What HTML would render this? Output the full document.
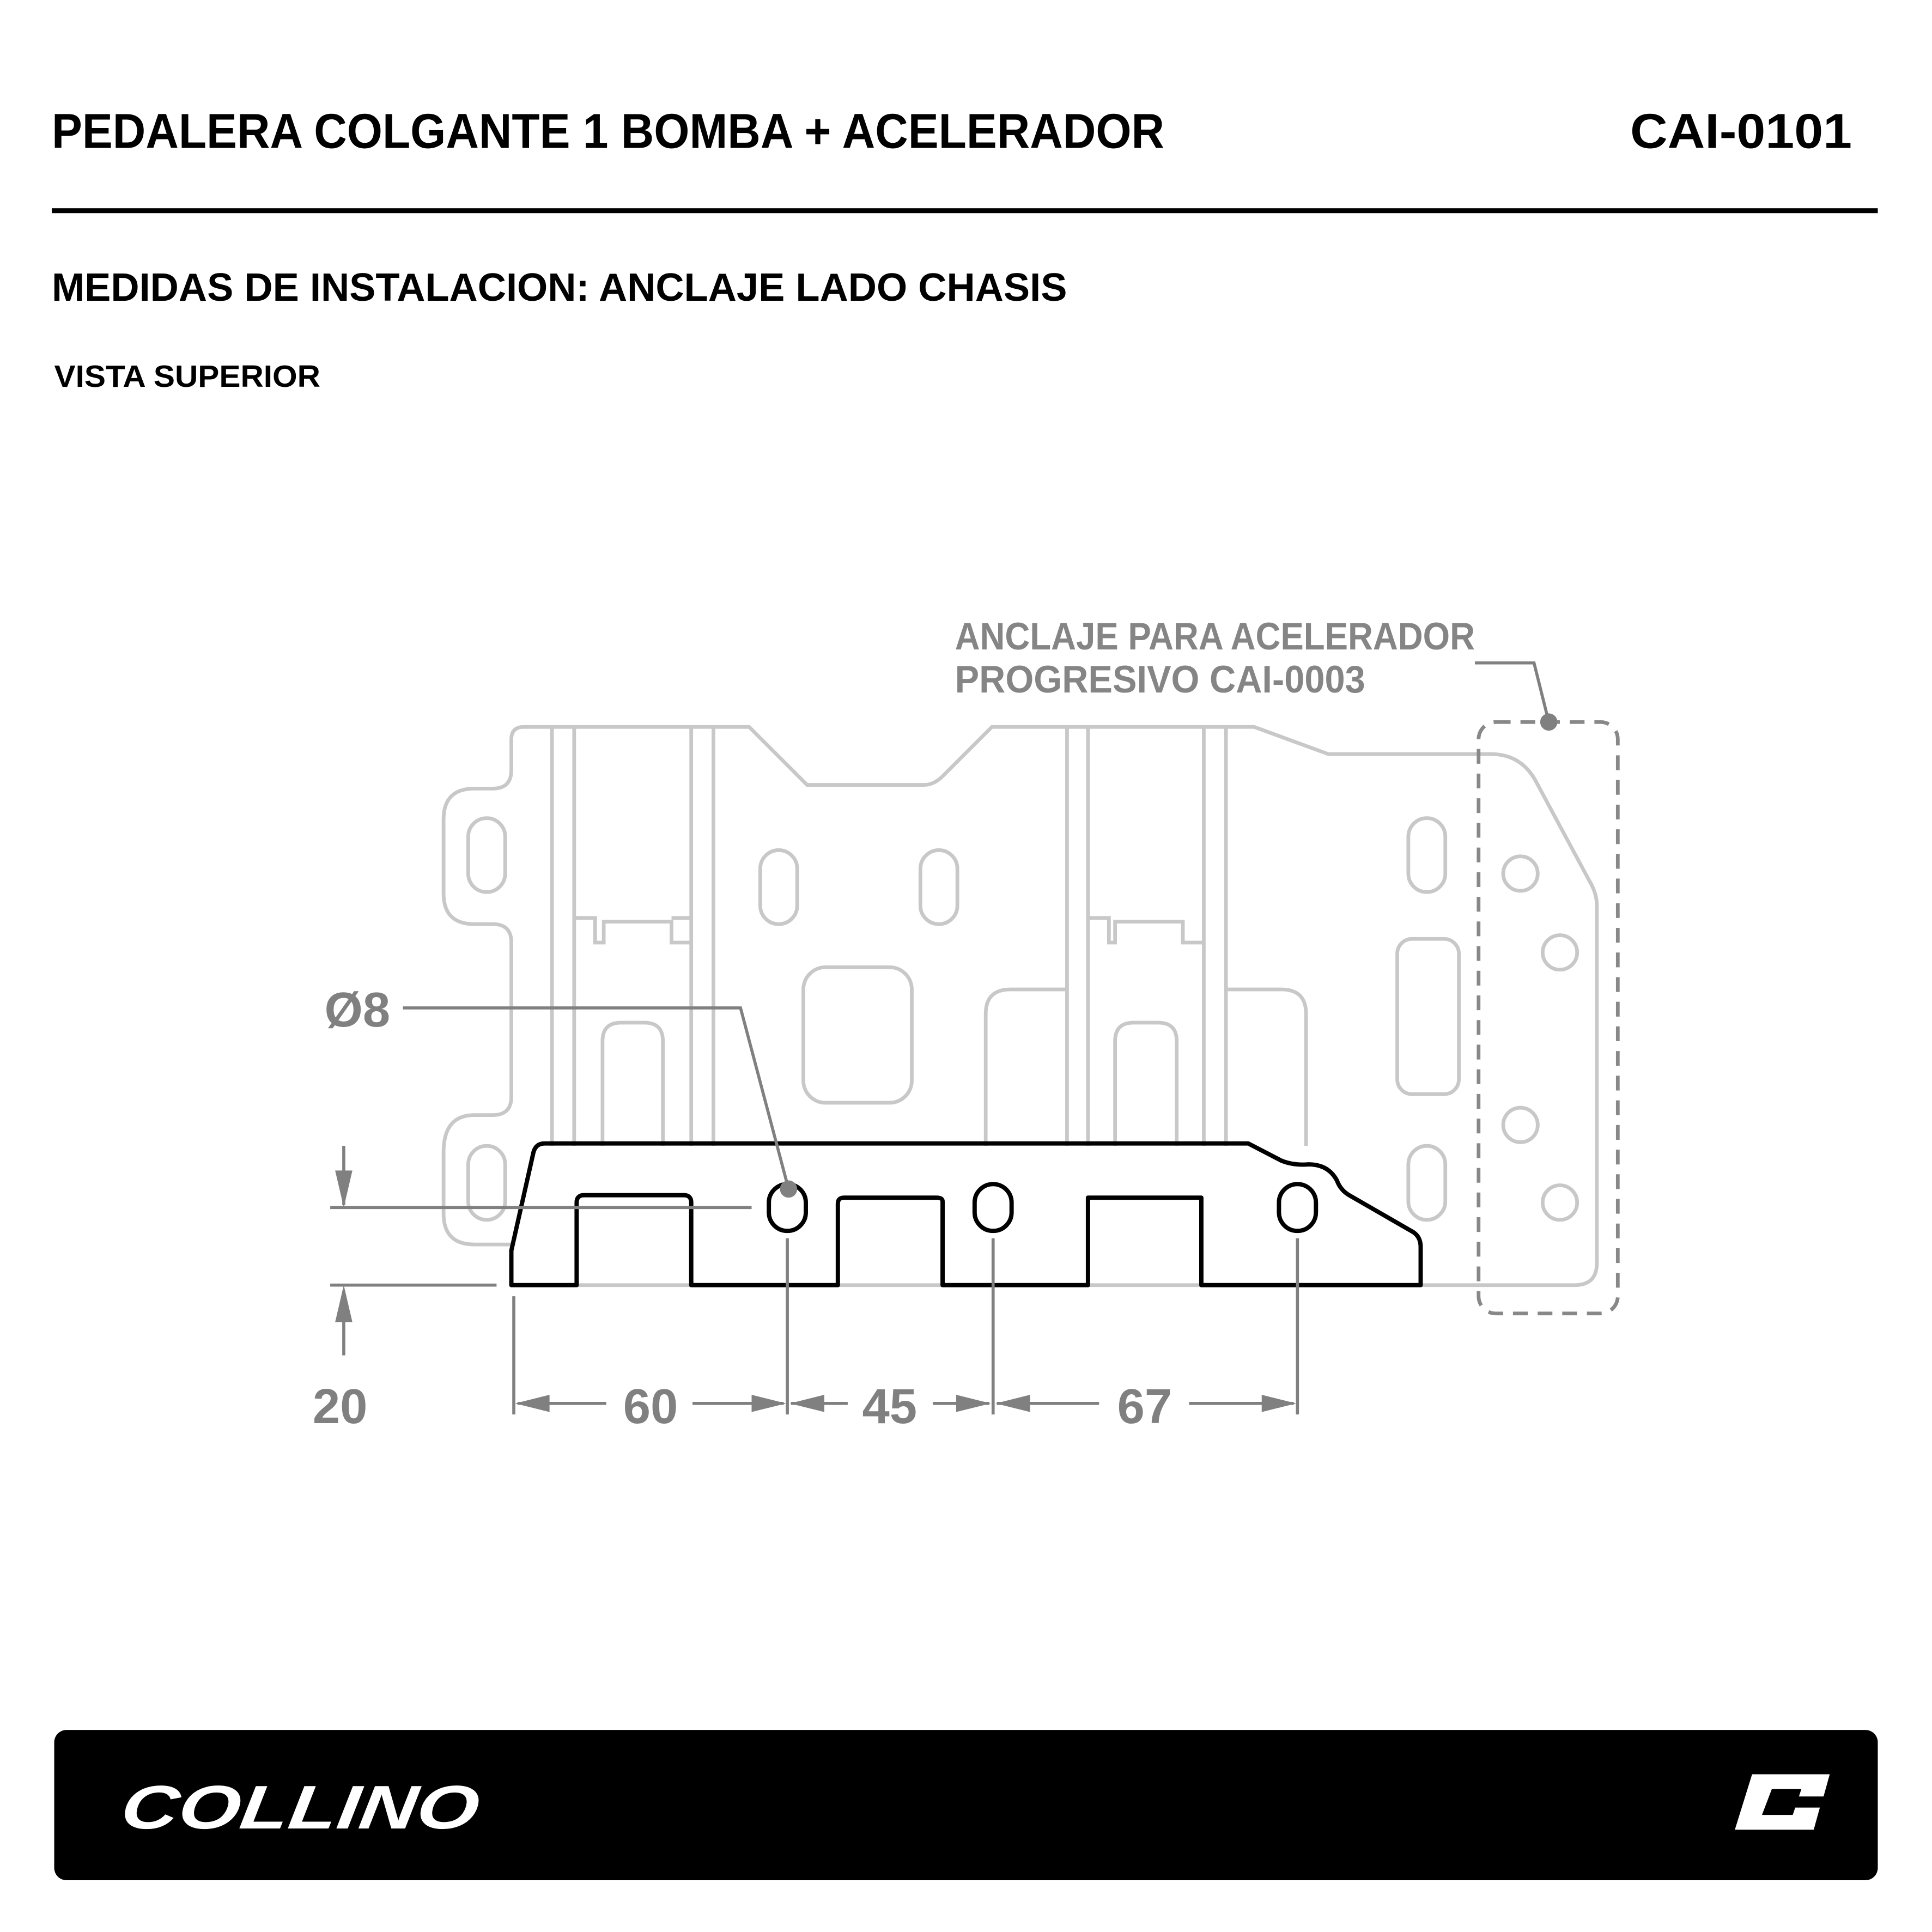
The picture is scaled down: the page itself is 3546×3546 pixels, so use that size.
<!DOCTYPE html>
<html><head><meta charset="utf-8"><style>html,body{margin:0;padding:0;background:#fff}svg{display:block}</style></head>
<body>
<svg xmlns="http://www.w3.org/2000/svg" width="3546" height="3546" viewBox="0 0 1568 1568">
<rect width="1568" height="1568" fill="#fff"/>
<g font-family="Liberation Sans, sans-serif" font-weight="bold">
<text x="42" y="120" font-size="40" textLength="903" lengthAdjust="spacingAndGlyphs">PEDALERA COLGANTE 1 BOMBA + ACELERADOR</text>
<text x="1323" y="120" font-size="40" textLength="180" lengthAdjust="spacingAndGlyphs">CAI-0101</text>
<rect x="42" y="169" width="1482" height="4" fill="#000"/>
<text x="42" y="244" font-size="32" textLength="824" lengthAdjust="spacingAndGlyphs">MEDIDAS DE INSTALACION: ANCLAJE LADO CHASIS</text>
<text x="44" y="314" font-size="25" textLength="216" lengthAdjust="spacingAndGlyphs">VISTA SUPERIOR</text>
</g>
<g fill="none" stroke="#c8c8c8" stroke-width="3">
<path d="M415,600 Q415,590 425,590 L608,590 L655,637 L750,637 Q758,637 765,630 L805,590 L1018,590 L1078,612 L1210,612 Q1235,612 1247,635 L1290,715 Q1296,725 1296,735 L1296,1025 Q1296,1043 1278,1043 L415,1043 M415,600 L415,625 Q415,640 400,640 L385,640 Q360,640 360,665 L360,725 Q360,750 385,750 L400,750 Q415,750 415,765 L415,890 Q415,905 400,905 L385,905 Q360,905 360,935 L360,985 Q360,1010 385,1010 L415,1010"/>
<path d="M448,590V930M466,590V930M561,590V930M579,590V930M866,590V930M883,590V930M977,590V930M995,590V930"/>
<path d="M466,745 L483,745 L483,765 L490,765 L490,748 L545,748 L545,765 L561,765 M561,745 L545,745"/>
<path d="M883,745 L900,745 L900,765 L905,765 L905,748 L960,748 L960,765 L977,765"/>
<rect x="380" y="664" width="30" height="60" rx="15"/><rect x="617" y="690" width="30" height="60" rx="15"/>
<rect x="747" y="690" width="30" height="60" rx="15"/><rect x="1143" y="664" width="30" height="60" rx="15"/>
<rect x="1143" y="930" width="30" height="60" rx="15"/><rect x="380" y="930" width="30" height="60" rx="15"/>
<rect x="652" y="785" width="88" height="110" rx="18"/><rect x="1134" y="762" width="50" height="126" rx="12"/>
<path d="M489,930V845Q489,830 504,830H523Q538,830 538,845V930"/>
<path d="M800,930V823Q800,803 820,803H866"/>
<path d="M905,930V845Q905,830 920,830H940Q955,830 955,845V930"/>
<path d="M995,803H1040Q1060,803 1060,823V930"/>
<circle cx="1234" cy="709" r="14"/><circle cx="1266" cy="773" r="14"/><circle cx="1234" cy="913" r="14"/><circle cx="1266" cy="976" r="14"/>
</g>
<rect x="1200" y="586" width="113" height="480" rx="14" fill="none" stroke="#888" stroke-width="3" stroke-dasharray="12,8"/>
<path d="M415,1043 L415,1015 L433,935 Q435,928 442,928 L1013,928 L1040,942 Q1050,946 1062,945 Q1078,945 1085,958 Q1088,966 1095,970 L1147,1000 Q1153,1004 1153,1012 L1153,1043 L975,1043 L975,972 L883,972 L883,1043 L765,1043 L765,975 Q765,972 760,972 L685,972 Q680,972 680,977 L680,1043 L561,1043 L561,976 Q561,970 555,970 L474,970 Q468,970 468,976 L468,1043 Z" fill="none" stroke="#000" stroke-width="3.5" stroke-linejoin="round"/>
<g fill="none" stroke="#000" stroke-width="3.5"><rect x="624" y="961" width="30" height="38" rx="15"/><rect x="791" y="961" width="30" height="38" rx="15"/><rect x="1038" y="961" width="30" height="38" rx="15"/></g>
<g stroke="#808080" stroke-width="2.5" fill="none">
<path d="M279,930V978M268,980H610M268,1043H403M279,1100V1048"/>
<path d="M417,1052V1148M639,1005V1148M806,1005V1148M1053,1005V1148"/>
<path d="M420,1139H492M562,1139H636M642,1139H688M757,1139H803M809,1139H892M965,1139H1050"/>
<path d="M327,818H601L640,965"/>
<path d="M1197,538H1245L1257,586"/>
</g>
<g fill="#808080">
<path d="M279,980L272,950L286,950Z"/><path d="M279,1043L272,1073L286,1073Z"/>
<path d="M418,1139L446,1132L446,1146Z"/><path d="M638,1139L610,1132L610,1146Z"/>
<path d="M641,1139L669,1132L669,1146Z"/><path d="M804,1139L776,1132L776,1146Z"/>
<path d="M808,1139L836,1132L836,1146Z"/><path d="M1052,1139L1024,1132L1024,1146Z"/>
<circle cx="640" cy="965" r="7"/><circle cx="1257" cy="586" r="7"/>
</g>
<g font-family="Liberation Sans, sans-serif" font-weight="bold" fill="#808080" text-anchor="middle">
<text x="276" y="1155" font-size="40">20</text>
<text x="528" y="1155" font-size="40">60</text>
<text x="722" y="1155" font-size="40">45</text>
<text x="929" y="1155" font-size="40">67</text>
<text x="290" y="833" font-size="40">Ø8</text>
</g>
<g font-family="Liberation Sans, sans-serif" font-weight="bold" fill="#858585">
<text x="775" y="527" font-size="31" textLength="422" lengthAdjust="spacingAndGlyphs">ANCLAJE PARA ACELERADOR</text>
<text x="775" y="562" font-size="31" textLength="333" lengthAdjust="spacingAndGlyphs">PROGRESIVO CAI-0003</text>
</g>
<rect x="44" y="1404" width="1480" height="122" rx="10" fill="#000"/>
<text x="100" y="1484" font-family="Liberation Sans, sans-serif" font-weight="bold" font-style="italic" font-size="50" fill="#fff" textLength="290" lengthAdjust="spacingAndGlyphs" transform="skewX(-8) translate(205,0)">COLLINO</text>
<path d="M1422,1440 L1485,1440 L1480,1458 L1460,1458 L1462,1452 L1438,1452 L1430,1473 L1455,1473 L1457,1467 L1477,1467 L1472,1485 L1408,1485 Z" fill="#fff"/>
</svg>
</body></html>
